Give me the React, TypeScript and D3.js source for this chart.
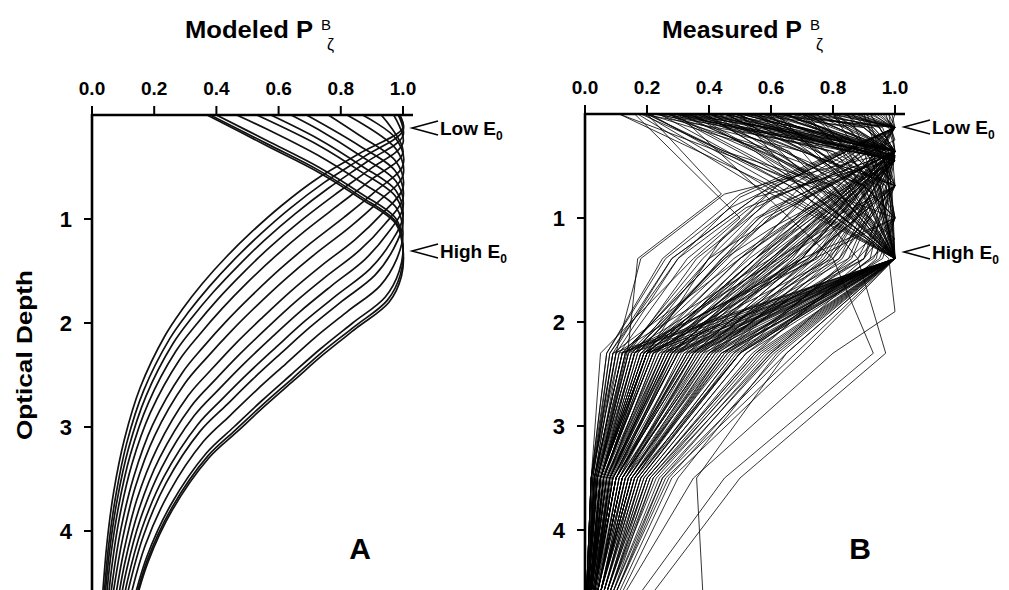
import React from 'react';
import * as d3 from 'd3';

const W = 1009;
const H = 590;
const FONT = '"Liberation Sans", Arial, Helvetica, sans-serif';

const X_TICKS = [0, 0.2, 0.4, 0.6, 0.8, 1.0];
const Y_TICKS = [1, 2, 3, 4];

// modeled curves (high E0 first): flat [depth, value, depth, value, ...]
const MODELED = [
  [0, 0.37, 0.3, 0.565, 0.55, 0.728, 0.8, 0.862, 1.05, 0.978, 1.3, 1.0, 1.55, 0.995, 1.8, 0.955, 2.05, 0.85, 2.3, 0.745, 2.55, 0.65, 2.8, 0.555, 3.05, 0.465, 3.3, 0.375, 3.8, 0.258, 4.3, 0.18, 4.8, 0.13],
  [0, 0.38, 0.28, 0.565, 0.53, 0.728, 0.78, 0.862, 1.03, 0.978, 1.28, 1.0, 1.53, 0.992, 1.78, 0.95, 2.03, 0.846, 2.28, 0.74, 2.53, 0.646, 2.78, 0.551, 3.03, 0.461, 3.28, 0.372, 3.78, 0.256, 4.28, 0.178, 4.78, 0.129],
  [0, 0.4, 0.25, 0.565, 0.5, 0.728, 0.75, 0.862, 1.0, 0.978, 1.25, 1.0, 1.5, 0.988, 1.75, 0.943, 2.0, 0.838, 2.25, 0.734, 2.5, 0.639, 2.75, 0.545, 3.0, 0.456, 3.25, 0.368, 3.75, 0.253, 4.25, 0.176, 4.75, 0.127],
  [0, 0.465, 0.14, 0.565, 0.39, 0.728, 0.64, 0.862, 0.89, 0.978, 1.14, 1.0, 1.39, 0.979, 1.64, 0.927, 1.89, 0.821, 2.14, 0.717, 2.39, 0.624, 2.64, 0.531, 2.89, 0.444, 3.14, 0.358, 3.64, 0.246, 4.14, 0.171, 4.64, 0.123],
  [0, 0.53, 0.29, 0.728, 0.54, 0.862, 0.79, 0.978, 1.04, 1.0, 1.29, 0.969, 1.54, 0.91, 1.79, 0.804, 2.04, 0.701, 2.29, 0.608, 2.54, 0.517, 2.79, 0.432, 3.04, 0.348, 3.54, 0.238, 4.04, 0.166, 4.54, 0.119, 5.04, 0.085],
  [0, 0.575, 0.23, 0.728, 0.48, 0.862, 0.73, 0.978, 0.98, 1.0, 1.23, 0.96, 1.48, 0.894, 1.73, 0.788, 1.98, 0.685, 2.23, 0.593, 2.48, 0.503, 2.73, 0.419, 2.98, 0.339, 3.48, 0.231, 3.98, 0.16, 4.48, 0.114, 4.98, 0.082],
  [0, 0.64, 0.14, 0.728, 0.39, 0.862, 0.64, 0.978, 0.89, 1.0, 1.14, 0.95, 1.39, 0.877, 1.64, 0.771, 1.89, 0.669, 2.14, 0.577, 2.39, 0.489, 2.64, 0.407, 2.89, 0.329, 3.39, 0.224, 3.89, 0.155, 4.39, 0.11, 4.89, 0.079],
  [0, 0.69, 0.3, 0.862, 0.55, 0.978, 0.8, 1.0, 1.05, 0.941, 1.3, 0.861, 1.55, 0.754, 1.8, 0.653, 2.05, 0.562, 2.3, 0.475, 2.55, 0.395, 2.8, 0.319, 3.3, 0.217, 3.8, 0.15, 4.3, 0.106, 4.8, 0.076],
  [0, 0.76, 0.2, 0.862, 0.45, 0.978, 0.7, 1.0, 0.95, 0.932, 1.2, 0.845, 1.45, 0.737, 1.7, 0.637, 1.95, 0.547, 2.2, 0.461, 2.45, 0.383, 2.7, 0.309, 3.2, 0.21, 3.7, 0.144, 4.2, 0.102, 4.7, 0.072],
  [0, 0.82, 0.33, 0.978, 0.58, 1.0, 0.83, 0.922, 1.08, 0.828, 1.33, 0.72, 1.58, 0.621, 1.83, 0.531, 2.08, 0.447, 2.33, 0.37, 2.58, 0.299, 3.08, 0.202, 3.58, 0.139, 4.08, 0.098, 4.58, 0.069],
  [0, 0.87, 0.23, 0.978, 0.48, 1.0, 0.73, 0.913, 0.98, 0.812, 1.23, 0.704, 1.48, 0.605, 1.73, 0.516, 1.98, 0.433, 2.23, 0.358, 2.48, 0.29, 2.98, 0.195, 3.48, 0.134, 3.98, 0.093, 4.48, 0.066, 4.98, 0.048],
  [0, 0.93, 0.36, 1.0, 0.61, 0.903, 0.86, 0.795, 1.11, 0.687, 1.36, 0.589, 1.61, 0.5, 1.86, 0.419, 2.11, 0.346, 2.36, 0.28, 2.86, 0.188, 3.36, 0.128, 3.86, 0.089, 4.36, 0.063, 4.86, 0.046],
  [0, 0.97, 0.27, 1.0, 0.52, 0.894, 0.77, 0.779, 1.02, 0.67, 1.27, 0.572, 1.52, 0.485, 1.77, 0.405, 2.02, 0.334, 2.27, 0.27, 2.77, 0.181, 3.27, 0.123, 3.77, 0.085, 4.27, 0.059, 4.77, 0.043],
  [0, 0.985, 0.2, 1.0, 0.45, 0.884, 0.7, 0.762, 0.95, 0.653, 1.2, 0.556, 1.45, 0.47, 1.7, 0.391, 1.95, 0.321, 2.2, 0.26, 2.7, 0.174, 3.2, 0.118, 3.7, 0.081, 4.2, 0.056, 4.7, 0.04],
  [0, 0.99, 0.15, 1.0, 0.4, 0.875, 0.65, 0.746, 0.9, 0.636, 1.15, 0.54, 1.4, 0.454, 1.65, 0.377, 1.9, 0.309, 2.15, 0.25, 2.65, 0.166, 3.15, 0.112, 3.65, 0.077, 4.15, 0.053, 4.65, 0.038],
  [0, 0.985, 0.12, 1.0, 0.37, 0.86, 0.62, 0.72, 0.87, 0.61, 1.12, 0.515, 1.37, 0.43, 1.62, 0.355, 1.87, 0.29, 2.12, 0.235, 2.62, 0.155, 3.12, 0.104, 3.62, 0.07, 4.12, 0.048, 4.62, 0.034],
];

// measured profiles: flat [depth, value, depth, value, ...]
const MEASURED = [
  [0, 0.22, 0.4, 1.0, 1.39, 0.62, 2.3, 0.3, 3.5, 0.09, 4.6, 0.03],
  [0, 0.3, 0.4, 0.98, 1.39, 0.7, 2.3, 0.35, 3.5, 0.12, 4.6, 0.04],
  [0, 0.35, 0.42, 1.0, 1.39, 0.78, 2.3, 0.42, 3.5, 0.15, 4.6, 0.05],
  [0, 0.4, 0.36, 1.0, 1.0, 0.75, 2.3, 0.28, 3.5, 0.1, 4.6, 0.03],
  [0, 0.45, 0.44, 0.99, 1.39, 0.85, 2.3, 0.5, 3.5, 0.18, 4.6, 0.07],
  [0, 0.5, 0.36, 1.0, 1.39, 0.66, 2.3, 0.22, 3.5, 0.06, 4.6, 0.02],
  [0, 0.55, 0.4, 1.0, 1.39, 0.9, 2.3, 0.55, 3.5, 0.2, 4.6, 0.08],
  [0, 0.6, 0.36, 0.97, 0.69, 1.0, 1.39, 0.72, 2.3, 0.38, 3.5, 0.13, 4.6, 0.04],
  [0, 0.62, 0.45, 1.0, 1.39, 0.58, 2.3, 0.18, 3.5, 0.05, 4.6, 0.02],
  [0, 0.68, 0.36, 1.0, 1.39, 0.8, 2.3, 0.45, 3.5, 0.16, 4.6, 0.06],
  [0, 0.72, 0.4, 1.0, 1.39, 0.94, 2.3, 0.6, 3.5, 0.25, 4.6, 0.09],
  [0, 0.25, 0.36, 0.95, 0.69, 1.0, 1.39, 0.82, 2.3, 0.4, 3.5, 0.12, 4.6, 0.04],
  [0, 0.28, 0.44, 1.0, 1.0, 0.7, 2.3, 0.25, 3.5, 0.07, 4.6, 0.02],
  [0, 0.33, 0.36, 1.0, 1.39, 0.55, 2.3, 0.2, 3.5, 0.06, 4.6, 0.02],
  [0, 0.38, 0.4, 1.0, 1.39, 0.74, 2.3, 0.33, 3.5, 0.1, 4.6, 0.03],
  [0, 0.42, 0.36, 0.98, 1.0, 0.85, 1.39, 0.64, 2.3, 0.26, 3.5, 0.08, 4.6, 0.03],
  [0, 0.48, 0.45, 1.0, 1.39, 0.68, 2.3, 0.31, 3.5, 0.11, 4.6, 0.04],
  [0, 0.52, 0.4, 1.0, 0.69, 0.9, 1.39, 0.6, 2.3, 0.24, 3.5, 0.07, 4.6, 0.02],
  [0, 0.58, 0.36, 1.0, 1.39, 0.76, 2.3, 0.36, 3.5, 0.13, 4.6, 0.05],
  [0, 0.65, 0.42, 1.0, 1.39, 0.86, 2.3, 0.48, 3.5, 0.17, 4.6, 0.06],
  [0, 0.82, 0.13, 1.0, 0.69, 0.7, 1.39, 0.46, 2.3, 0.15, 3.5, 0.04, 4.6, 0.01],
  [0, 0.88, 0.13, 1.0, 0.69, 0.78, 1.39, 0.55, 2.3, 0.2, 3.5, 0.06, 4.6, 0.02],
  [0, 0.92, 0.36, 1.0, 0.9, 0.6, 1.39, 0.42, 2.3, 0.12, 3.5, 0.03, 4.6, 0.01],
  [0, 0.95, 0.13, 1.0, 0.8, 0.5, 1.39, 0.3, 2.3, 0.08, 3.5, 0.025, 4.6, 0.01],
  [0, 0.78, 0.36, 1.0, 0.77, 0.45, 1.39, 0.18, 2.3, 0.1, 3.5, 0.03, 4.6, 0.01],
  [0, 0.85, 0.13, 0.98, 0.36, 1.0, 1.39, 0.65, 2.3, 0.3, 3.5, 0.09, 4.6, 0.03],
  [0, 1.0, 0.36, 0.96, 1.0, 0.68, 1.39, 0.5, 2.3, 0.18, 3.5, 0.05, 4.6, 0.02],
  [0, 0.9, 0.13, 1.0, 0.69, 0.88, 1.39, 0.7, 2.3, 0.35, 3.5, 0.1, 4.6, 0.03],
  [0, 0.97, 0.25, 1.0, 0.9, 0.55, 1.39, 0.38, 2.3, 0.13, 3.5, 0.04, 4.6, 0.015],
  [0, 0.8, 0.13, 1.0, 1.0, 0.8, 1.39, 0.62, 2.3, 0.28, 3.5, 0.08, 4.6, 0.02],
  [0, 0.93, 0.13, 0.99, 0.36, 1.0, 1.39, 0.48, 2.3, 0.16, 3.5, 0.05, 4.6, 0.02],
  [0, 0.87, 0.13, 1.0, 0.69, 0.62, 1.2, 0.44, 2.3, 0.2, 3.5, 0.06, 4.6, 0.02],
  [0, 0.11, 0.69, 0.6, 1.39, 1.0, 2.3, 0.4, 3.5, 0.12, 4.6, 0.04],
  [0, 0.18, 0.69, 0.7, 1.39, 1.0, 2.3, 0.5, 3.5, 0.18, 4.6, 0.06],
  [0, 0.2, 0.36, 0.45, 0.69, 0.8, 1.39, 1.0, 2.3, 0.6, 3.5, 0.22, 4.6, 0.08],
  [0, 0.3, 0.69, 0.82, 1.39, 1.0, 2.3, 0.45, 3.5, 0.15, 4.6, 0.05],
  [0, 0.4, 0.36, 0.7, 1.39, 1.0, 2.3, 0.55, 3.5, 0.2, 4.6, 0.07],
  [0, 0.5, 0.69, 0.9, 1.39, 1.0, 2.3, 0.65, 3.5, 0.25, 4.6, 0.1],
  [0, 0.6, 0.36, 0.85, 1.0, 0.97, 1.39, 1.0, 2.3, 0.7, 3.5, 0.28, 4.6, 0.11],
  [0, 0.7, 0.69, 0.95, 1.39, 1.0, 2.3, 0.42, 3.5, 0.14, 4.6, 0.05],
  [0, 0.8, 0.36, 0.92, 1.39, 1.0, 2.3, 0.58, 3.5, 0.21, 4.6, 0.08],
  [0, 0.9, 0.69, 0.98, 1.39, 1.0, 2.3, 0.5, 3.5, 0.16, 4.6, 0.05],
  [0, 0.24, 0.69, 0.66, 1.39, 1.0, 2.3, 0.62, 3.5, 0.3, 4.6, 0.12],
  [0, 0.35, 0.69, 0.75, 1.39, 1.0, 2.3, 0.35, 3.5, 0.1, 4.6, 0.03],
  [0, 0.45, 0.36, 0.72, 0.69, 0.86, 1.39, 1.0, 2.3, 0.48, 3.5, 0.17, 4.6, 0.06],
  [0, 0.55, 0.69, 0.88, 1.39, 1.0, 2.3, 0.52, 3.5, 0.19, 4.6, 0.07],
  [0, 0.65, 0.36, 0.9, 1.39, 1.0, 2.3, 0.38, 3.5, 0.11, 4.6, 0.04],
  [0, 0.75, 0.69, 0.93, 1.39, 1.0, 2.3, 0.68, 3.5, 0.26, 4.6, 0.1],
  [0, 0.85, 0.69, 0.96, 1.39, 1.0, 2.3, 0.44, 3.5, 0.13, 4.6, 0.04],
  [0, 0.28, 0.69, 0.72, 1.39, 0.98, 1.9, 1.0, 2.3, 0.8, 3.5, 0.35, 4.6, 0.13],
  [0, 0.38, 0.69, 0.78, 1.39, 1.0, 2.3, 0.3, 3.5, 0.08, 4.6, 0.025],
  [0, 0.62, 0.69, 0.85, 1.39, 1.0, 2.3, 0.57, 3.5, 0.22, 4.6, 0.09],
  [0, 0.5, 1.39, 0.88, 2.3, 0.97, 3.5, 0.5, 4.6, 0.22],
  [0, 0.3, 1.39, 0.8, 2.3, 0.93, 3.5, 0.45, 4.6, 0.18],
  [0, 0.2, 0.77, 0.44, 1.39, 0.17, 2.23, 0.14, 3.5, 0.04, 4.6, 0.01],
  [0, 0.16, 1.0, 0.5, 1.39, 0.35, 2.3, 0.05, 3.5, 0.02, 4.6, 0.005],
  [0, 0.5, 1.39, 1.0, 2.3, 0.65, 3.5, 0.36, 4.6, 0.38],
  [0, 0.6, 0.36, 1.0, 1.39, 0.75, 2.3, 0.12, 3.5, 0.03, 4.6, 0.01],
  [0, 0.7, 0.36, 1.0, 1.39, 0.6, 2.3, 0.1, 3.5, 0.02, 4.6, 0.005],
  [0, 0.26, 0.36, 0.8, 0.69, 1.0, 1.39, 0.72, 2.3, 0.22, 3.5, 0.06, 4.6, 0.02],
  [0, 0.32, 0.45, 1.0, 1.39, 0.66, 2.3, 0.27, 3.5, 0.08, 4.6, 0.03],
  [0, 0.36, 0.36, 1.0, 1.0, 0.88, 2.3, 0.37, 3.5, 0.12, 4.6, 0.04],
  [0, 0.44, 0.13, 0.7, 0.36, 1.0, 1.39, 0.7, 2.3, 0.29, 3.5, 0.09, 4.6, 0.03],
  [0, 0.47, 0.69, 1.0, 1.39, 0.88, 2.3, 0.46, 3.5, 0.15, 4.6, 0.05],
  [0, 0.53, 0.36, 1.0, 1.39, 0.53, 2.3, 0.19, 3.5, 0.05, 4.6, 0.02],
  [0, 0.57, 0.45, 0.99, 1.39, 0.79, 2.3, 0.41, 3.5, 0.14, 4.6, 0.05],
  [0, 0.64, 0.36, 1.0, 0.69, 0.96, 1.39, 0.69, 2.3, 0.32, 3.5, 0.1, 4.6, 0.03],
  [0, 0.69, 0.13, 0.9, 0.4, 1.0, 1.39, 0.83, 2.3, 0.43, 3.5, 0.14, 4.6, 0.05],
  [0, 0.74, 0.36, 1.0, 1.39, 0.57, 2.3, 0.21, 3.5, 0.06, 4.6, 0.02],
  [0, 0.77, 0.13, 0.95, 0.36, 1.0, 1.39, 0.92, 2.3, 0.52, 3.5, 0.19, 4.6, 0.07],
  [0, 0.83, 0.13, 1.0, 0.69, 0.74, 1.39, 0.52, 2.3, 0.23, 3.5, 0.07, 4.6, 0.02],
  [0, 0.89, 0.36, 1.0, 1.39, 0.61, 2.3, 0.25, 3.5, 0.08, 4.6, 0.03],
  [0, 0.94, 0.13, 1.0, 1.39, 0.67, 2.3, 0.33, 3.5, 0.11, 4.6, 0.04],
  [0, 0.98, 0.36, 1.0, 1.39, 0.77, 2.3, 0.39, 3.5, 0.12, 4.6, 0.04],
  [0, 0.21, 0.69, 0.62, 1.39, 1.0, 2.3, 0.44, 3.5, 0.16, 4.6, 0.06],
  [0, 0.27, 0.36, 0.55, 1.39, 1.0, 2.3, 0.36, 3.5, 0.12, 4.6, 0.04],
  [0, 0.34, 0.69, 0.74, 1.39, 1.0, 2.3, 0.61, 3.5, 0.24, 4.6, 0.09],
  [0, 0.41, 0.69, 0.79, 1.2, 1.0, 2.3, 0.54, 3.5, 0.2, 4.6, 0.07],
  [0, 0.49, 0.36, 0.78, 1.39, 1.0, 2.3, 0.47, 3.5, 0.15, 4.6, 0.05],
  [0, 0.56, 0.69, 0.92, 1.39, 1.0, 2.3, 0.59, 3.5, 0.23, 4.6, 0.08],
  [0, 0.67, 0.36, 0.93, 1.39, 1.0, 2.3, 0.34, 3.5, 0.09, 4.6, 0.03],
  [0, 0.73, 0.69, 0.97, 1.39, 1.0, 2.3, 0.63, 3.5, 0.27, 4.6, 0.1],
  [0, 0.81, 0.36, 0.97, 1.39, 1.0, 2.3, 0.49, 3.5, 0.18, 4.6, 0.07],
  [0, 0.91, 0.69, 0.99, 1.39, 1.0, 2.3, 0.56, 3.5, 0.21, 4.6, 0.08],
  [0, 0.19, 0.69, 0.58, 1.39, 1.0, 2.3, 0.28, 3.5, 0.07, 4.6, 0.02],
  [0, 0.23, 0.36, 0.62, 1.0, 0.9, 1.39, 1.0, 2.3, 0.41, 3.5, 0.13, 4.6, 0.05],
  [0, 0.96, 0.13, 1.0, 0.69, 0.66, 1.39, 0.36, 2.3, 0.14, 3.5, 0.04, 4.6, 0.01],
  [0, 0.86, 0.36, 1.0, 1.0, 0.56, 2.3, 0.17, 3.5, 0.05, 4.6, 0.015],
  [0, 0.79, 0.13, 1.0, 0.69, 0.82, 1.39, 0.58, 2.3, 0.26, 3.5, 0.08, 4.6, 0.03],
  [0, 0.99, 0.13, 1.0, 0.69, 0.9, 1.39, 0.74, 2.3, 0.4, 3.5, 0.14, 4.6, 0.05],
  [0, 0.45, 0.36, 1.0, 0.9, 0.52, 1.39, 0.3, 2.3, 0.1, 3.5, 0.03, 4.6, 0.01],
  [0, 0.55, 0.13, 1.0, 0.77, 0.5, 1.39, 0.25, 2.3, 0.07, 3.5, 0.02, 4.6, 0.005],
  [0, 0.63, 0.36, 1.0, 1.0, 0.58, 2.3, 0.15, 3.5, 0.04, 4.6, 0.01],
  [0, 0.71, 0.13, 1.0, 0.69, 0.62, 1.39, 0.33, 2.3, 0.11, 3.5, 0.035, 4.6, 0.01],
  [0, 0.84, 0.36, 1.0, 0.9, 0.66, 1.39, 0.4, 2.3, 0.16, 3.5, 0.05, 4.6, 0.02],
  [0, 0.29, 0.45, 1.0, 1.1, 0.6, 1.39, 0.45, 2.3, 0.14, 3.5, 0.04, 4.6, 0.01],
  [0, 0.37, 0.69, 1.0, 1.39, 0.8, 2.3, 0.2, 3.5, 0.05, 4.6, 0.015],
  [0, 0.51, 0.45, 1.0, 1.39, 0.63, 2.3, 0.13, 3.5, 0.03, 4.6, 0.01],
  [0, 0.66, 0.13, 0.93, 0.36, 1.0, 1.39, 0.5, 2.3, 0.09, 3.5, 0.02, 4.6, 0.005],
  [0, 0.76, 0.36, 1.0, 1.39, 0.7, 2.3, 0.16, 3.5, 0.045, 4.6, 0.015],
  [0, 0.2, 0.69, 0.66, 1.39, 1.0, 2.3, 0.2, 3.5, 0.05, 4.6, 0.015],
  [0, 0.31, 0.69, 0.8, 1.39, 1.0, 2.3, 0.15, 3.5, 0.04, 4.6, 0.01],
  [0, 0.43, 0.69, 0.84, 1.39, 1.0, 2.3, 0.24, 3.5, 0.06, 4.6, 0.02],
  [0, 0.59, 0.69, 0.9, 1.39, 1.0, 2.3, 0.18, 3.5, 0.05, 4.6, 0.015],
  [0, 0.71, 0.69, 0.94, 1.39, 1.0, 2.3, 0.27, 3.5, 0.075, 4.6, 0.025],
  [0, 0.17, 0.69, 0.55, 1.39, 1.0, 2.3, 0.32, 3.5, 0.09, 4.6, 0.03],
  [0, 0.33, 0.36, 0.66, 1.39, 1.0, 2.3, 0.25, 3.5, 0.065, 4.6, 0.02],
  [0, 0.46, 0.69, 0.83, 1.39, 1.0, 2.3, 0.12, 3.5, 0.03, 4.6, 0.01],
  [0, 0.54, 0.36, 0.83, 1.39, 1.0, 2.3, 0.22, 3.5, 0.055, 4.6, 0.02],
  [0, 0.61, 0.69, 0.89, 1.39, 1.0, 2.3, 0.29, 3.5, 0.085, 4.6, 0.03],
  [0, 0.92, 0.13, 1.0, 0.69, 0.6, 1.39, 0.28, 2.3, 0.09, 3.5, 0.025, 4.6, 0.008],
  [0, 0.98, 0.13, 1.0, 0.9, 0.47, 1.39, 0.26, 2.3, 0.07, 3.5, 0.02, 4.6, 0.005],
  [0, 0.4, 0.45, 1.0, 1.39, 0.72, 2.3, 0.14, 3.5, 0.035, 4.6, 0.01],
  [0, 0.5, 0.36, 1.0, 1.39, 0.82, 2.3, 0.26, 3.5, 0.07, 4.6, 0.02],
  [0, 0.75, 0.13, 0.96, 0.45, 1.0, 1.39, 0.64, 2.3, 0.19, 3.5, 0.05, 4.6, 0.015],
  [0, 0.27, 0.69, 0.7, 1.39, 1.0, 2.3, 0.09, 3.5, 0.025, 4.6, 0.008],
  [0, 0.39, 0.69, 0.76, 1.39, 1.0, 2.3, 0.11, 3.5, 0.02, 4.6, 0.005],
  [0, 0.8, 0.69, 0.95, 1.39, 1.0, 2.3, 0.33, 3.5, 0.1, 4.6, 0.035],
  [0, 0.88, 0.36, 0.98, 1.39, 1.0, 2.3, 0.2, 3.5, 0.05, 4.6, 0.015],
  [0, 0.63, 0.13, 0.85, 0.69, 1.0, 1.39, 0.9, 2.3, 0.34, 3.5, 0.1, 4.6, 0.03],
  [0, 0.11, 1.0, 1.0, 1.39, 0.9, 2.3, 0.4, 3.5, 0.12, 4.6, 0.04],
  [0, 0.18, 0.44, 1.0, 1.39, 0.55, 2.3, 0.2, 3.5, 0.05, 4.6, 0.02],
  [0, 0.3, 0.13, 0.6, 0.44, 1.0, 0.8, 0.55, 1.39, 0.28, 2.3, 0.08, 3.5, 0.02, 4.6, 0.005],
  [0, 0.5, 0.13, 0.9, 0.36, 1.0, 0.8, 0.6, 1.39, 0.4, 2.3, 0.13, 3.5, 0.035, 4.6, 0.01],
  [0, 0.6, 0.13, 1.0, 0.69, 0.75, 1.0, 0.55, 1.39, 0.42, 2.3, 0.12, 3.5, 0.03, 4.6, 0.01],
  [0, 0.7, 0.36, 1.0, 0.8, 0.72, 1.39, 0.5, 2.3, 0.19, 3.5, 0.05, 4.6, 0.015],
  [0, 0.85, 0.13, 1.0, 0.69, 0.85, 1.0, 0.7, 1.39, 0.55, 2.3, 0.22, 3.5, 0.06, 4.6, 0.02],
  [0, 0.4, 0.36, 0.9, 0.69, 1.0, 1.0, 0.92, 1.39, 0.78, 2.3, 0.35, 3.5, 0.1, 4.6, 0.03],
  [0, 0.55, 0.36, 0.95, 0.69, 1.0, 1.0, 0.8, 1.39, 0.65, 2.3, 0.27, 3.5, 0.08, 4.6, 0.025],
  [0, 0.3, 0.36, 0.8, 1.0, 1.0, 1.39, 0.95, 2.3, 0.5, 3.5, 0.17, 4.6, 0.06],
  [0, 0.45, 0.69, 0.95, 1.0, 1.0, 1.39, 0.85, 2.3, 0.3, 3.5, 0.09, 4.6, 0.03],
  [0, 0.65, 0.36, 0.96, 1.0, 1.0, 1.39, 0.93, 2.3, 0.44, 3.5, 0.15, 4.6, 0.05],
  [0, 0.2, 0.36, 0.6, 0.69, 0.9, 1.0, 1.0, 1.39, 0.96, 2.3, 0.46, 3.5, 0.16, 4.6, 0.05],
  [0, 0.92, 0.36, 1.0, 0.69, 0.78, 1.0, 0.6, 1.39, 0.44, 2.3, 0.17, 3.5, 0.05, 4.6, 0.015],
  [0, 0.7, 0.13, 0.92, 0.36, 1.0, 0.69, 0.86, 1.39, 0.6, 2.3, 0.23, 3.5, 0.07, 4.6, 0.02],
  [0, 0.24, 0.36, 0.7, 0.69, 1.0, 1.39, 0.62, 2.3, 0.16, 3.5, 0.04, 4.6, 0.01],
  [0, 0.36, 0.69, 0.9, 1.0, 1.0, 1.39, 0.7, 2.3, 0.19, 3.5, 0.05, 4.6, 0.015],
  [0, 0.58, 0.69, 0.97, 1.0, 1.0, 1.39, 0.88, 2.3, 0.37, 3.5, 0.11, 4.6, 0.035],
  [0, 0.8, 0.36, 0.99, 0.69, 1.0, 1.39, 0.68, 2.3, 0.28, 3.5, 0.08, 4.6, 0.025],
  [0, 0.48, 0.36, 0.85, 0.69, 0.98, 1.0, 1.0, 1.39, 0.74, 2.3, 0.21, 3.5, 0.06, 4.6, 0.02],
];

type Pt = [number, number];

function pairs(flat: number[]): Pt[] {
  const out: Pt[] = [];
  for (let i = 0; i < flat.length; i += 2) out.push([flat[i], flat[i + 1]]);
  return out;
}

function Axes({ x, y, id }: { x: d3.ScaleLinear<number, number>; y: d3.ScaleLinear<number, number>; id: string }) {
  const [x0, x1] = x.range();
  const top = y(0);
  return (
    <g fill="#000" fontFamily={FONT} fontWeight="bold">
      <line x1={x0} x2={x1 + 10} y1={top} y2={top} stroke="#000" strokeWidth={2.6} />
      <line x1={x0} x2={x0} y1={top - 1} y2={H} stroke="#000" strokeWidth={2.6} />
      {X_TICKS.map((t) => (
        <g key={id + 'x' + t}>
          <line x1={x(t)} x2={x(t)} y1={top} y2={top - 9} stroke="#000" strokeWidth={2} />
          <text x={x(t)} y={top - 20} textAnchor="middle" fontSize={19}>{t.toFixed(1)}</text>
        </g>
      ))}
      {Y_TICKS.map((t) => (
        <g key={id + 'y' + t}>
          <line x1={x0 - 8} x2={x0} y1={y(t)} y2={y(t)} stroke="#000" strokeWidth={2} />
          <text x={x0 - 20} y={y(t) + 8} textAnchor="end" fontSize={22}>{t}</text>
        </g>
      ))}
    </g>
  );
}

function Title({ x, width, label }: { x: number; width: number; label: string }) {
  return (
    <g fontFamily={FONT} fill="#000">
      <text x={x - width} y={38} fontSize={23} fontWeight="bold" textLength={width} lengthAdjust="spacingAndGlyphs">
        {label}
      </text>
      <text x={x + 8} y={30} fontSize={15}>B</text>
      <text x={x + 14} y={50} fontSize={16}>ζ</text>
    </g>
  );
}

function E0Label({ x, y, text }: { x: number; y: number; text: string }) {
  return (
    <g fontFamily={FONT} fontWeight="bold" fill="#000">
      <polyline points={`${x + 26},${y - 7} ${x},${y} ${x + 26},${y + 7}`} fill="none" stroke="#000" strokeWidth={1.5} />
      <text x={x + 28} y={y + 7} fontSize={19}>
        {text} E<tspan fontSize={12} dy={5}>0</tspan>
      </text>
    </g>
  );
}

export default function App() {
  const unit = 104;
  const xA = d3.scaleLinear().domain([0, 1]).range([92, 403]);
  const yA = d3.scaleLinear().domain([0, 1]).range([115, 115 + unit]);
  const xB = d3.scaleLinear().domain([0, 1]).range([585, 895]);
  const yB = d3.scaleLinear().domain([0, 1]).range([114, 114 + unit]);

  const modelLine = d3
    .line<Pt>()
    .x((d) => xA(d[1]))
    .y((d) => yA(d[0]))
    .curve(d3.curveCatmullRom.alpha(0.5));

  const measLine = d3
    .line<Pt>()
    .x((d) => xB(d[1]))
    .y((d) => yB(d[0]));

  return (
    <svg width={W} height={H} style={{ position: 'fixed', left: 0, top: 0, background: '#fff' }}>
      <rect width={W} height={H} fill="#fff" />
      <defs>
        <clipPath id="clipA">
          <rect x={92} y={115} width={313} height={H - 115} />
        </clipPath>
        <clipPath id="clipB">
          <rect x={585} y={114} width={312} height={H - 114} />
        </clipPath>
      </defs>

      <Title x={313} width={128} label="Modeled P" />
      <Title x={802} width={140} label="Measured P" />

      <g clipPath="url(#clipA)" fill="none" stroke="#111" strokeWidth={1.7}>
        {MODELED.map((row, i) => (
          <path key={'m' + i} d={modelLine(pairs(row)) || ''} />
        ))}
      </g>

      <g clipPath="url(#clipB)" fill="none" stroke="#000" strokeWidth={0.8}>
        {MEASURED.map((row, i) => (
          <path key={'p' + i} d={measLine(pairs(row)) || ''} />
        ))}
      </g>

      <Axes x={xA} y={yA} id="a" />
      <Axes x={xB} y={yB} id="b" />

      <text
        transform={`translate(32,355) rotate(-90)`}
        textAnchor="middle"
        fontFamily={FONT}
        fontWeight="bold"
        fontSize={22}
        textLength={170}
        lengthAdjust="spacingAndGlyphs"
      >
        Optical Depth
      </text>

      <E0Label x={412} y={128} text="Low" />
      <E0Label x={412} y={251} text="High" />
      <E0Label x={904} y={127} text="Low" />
      <E0Label x={904} y={252} text="High" />

      <text x={360} y={559} textAnchor="middle" fontFamily={FONT} fontWeight="bold" fontSize={30}>A</text>
      <text x={860} y={559} textAnchor="middle" fontFamily={FONT} fontWeight="bold" fontSize={30}>B</text>
    </svg>
  );
}
